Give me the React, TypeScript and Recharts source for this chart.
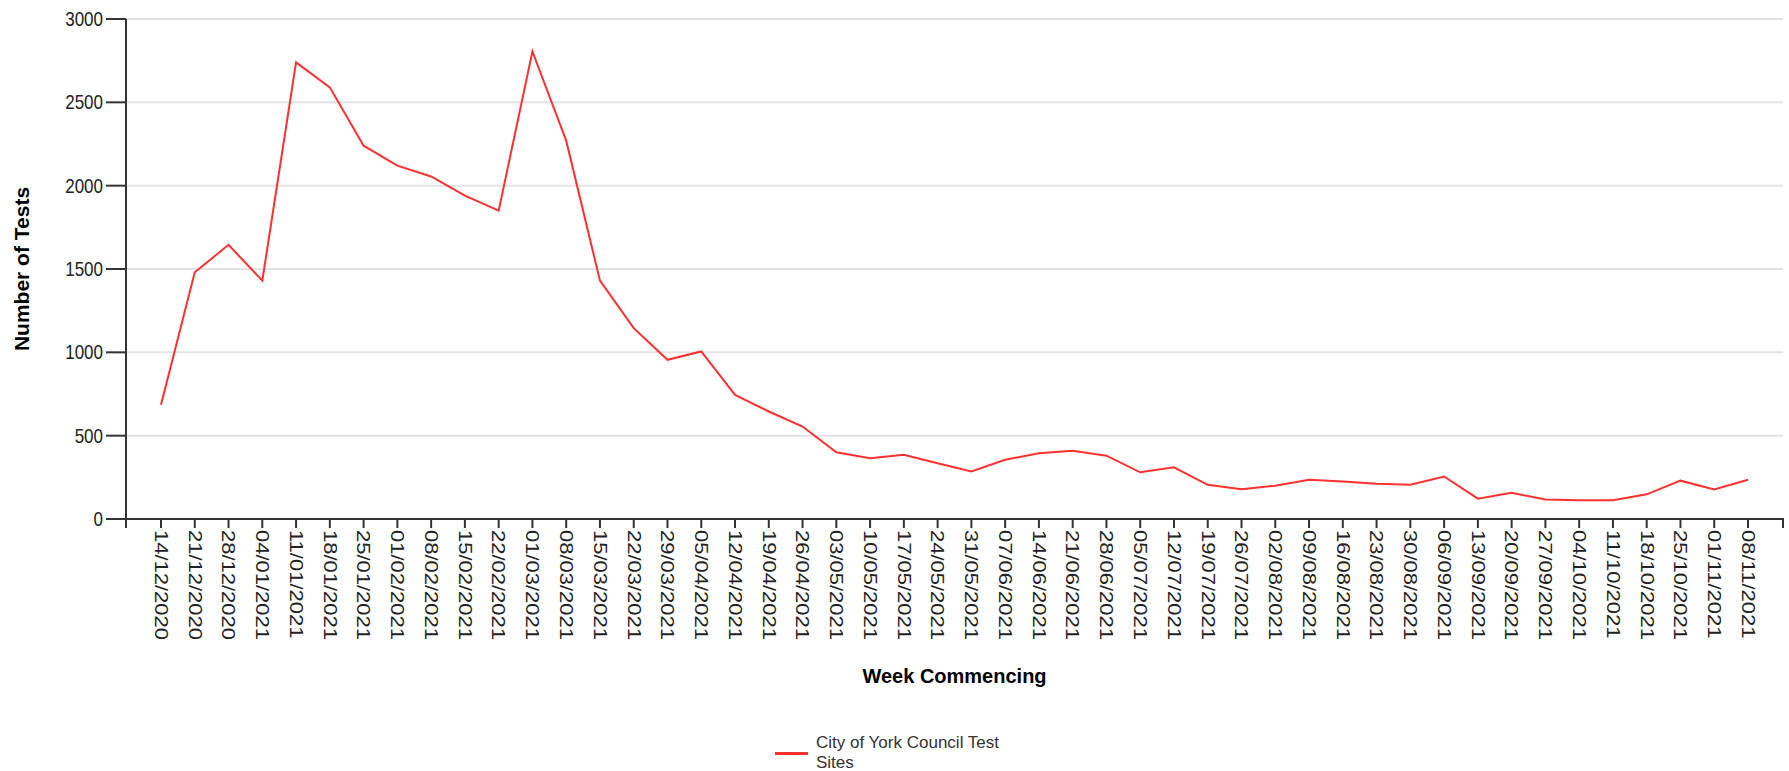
import React from "react";
import {
  LineChart,
  Line,
  XAxis,
  YAxis,
  CartesianGrid,
  Legend,
  ReferenceLine,
} from "recharts";

const FONT = '"Liberation Sans", Arial, sans-serif';
const RED = "#ff3030";
const AXIS = "#333";

const weeks = [
  "14/12/2020", "21/12/2020", "28/12/2020", "04/01/2021", "11/01/2021", "18/01/2021",
  "25/01/2021", "01/02/2021", "08/02/2021", "15/02/2021", "22/02/2021", "01/03/2021",
  "08/03/2021", "15/03/2021", "22/03/2021", "29/03/2021", "05/04/2021", "12/04/2021",
  "19/04/2021", "26/04/2021", "03/05/2021", "10/05/2021", "17/05/2021", "24/05/2021",
  "31/05/2021", "07/06/2021", "14/06/2021", "21/06/2021", "28/06/2021", "05/07/2021",
  "12/07/2021", "19/07/2021", "26/07/2021", "02/08/2021", "09/08/2021", "16/08/2021",
  "23/08/2021", "30/08/2021", "06/09/2021", "13/09/2021", "20/09/2021", "27/09/2021",
  "04/10/2021", "11/10/2021", "18/10/2021", "25/10/2021", "01/11/2021", "08/11/2021",
];

const tests = [
  685, 1480, 1645, 1430, 2740, 2590,
  2240, 2120, 2055, 1940, 1850, 2805,
  2270, 1430, 1145, 955, 1005, 745,
  645, 555, 400, 365, 385, 335,
  285, 355, 395, 410, 380, 280,
  310, 205, 178, 200, 235, 225,
  212, 205, 255, 122, 157, 117,
  113, 113, 148, 230, 177, 235,
];

const yTicks = [0, 500, 1000, 1500, 2000, 2500, 3000];
const seriesName = "City of York Council Test Sites";

const data = weeks.map((week, i) => ({ week, tests: tests[i] }));

function XTick({ x, y, payload }: any) {
  return (
    <text
      transform={`translate(${x},${y}) rotate(90) scale(1,0.8)`}
      textAnchor="start"
      dominantBaseline="central"
      fontFamily={FONT}
      fontSize={22}
      fill="#222"
    >
      {payload.value}
    </text>
  );
}

function YTick({ x, y, payload }: any) {
  return (
    <text
      transform={`translate(${x},${y}) scale(0.85,1)`}
      textAnchor="end"
      dominantBaseline="central"
      fontFamily={FONT}
      fontSize={20}
      fill="#222"
    >
      {payload.value}
    </text>
  );
}

function YTitle({ viewBox }: any) {
  const cx = viewBox.x + 21;
  const cy = viewBox.y + viewBox.height / 2;
  return (
    <text
      x={cx}
      y={cy}
      transform={`rotate(-90 ${cx} ${cy})`}
      textAnchor="middle"
      dominantBaseline="central"
      fontFamily={FONT}
      fontWeight="bold"
      fontSize={21}
      fill="#000"
    >
      Number of Tests
    </text>
  );
}

function XTitle({ viewBox }: any) {
  return (
    <text
      x={viewBox.x + viewBox.width / 2}
      y={viewBox.y + 157}
      textAnchor="middle"
      dominantBaseline="central"
      fontFamily={FONT}
      fontWeight="bold"
      fontSize={20}
      fill="#000"
    >
      Week Commencing
    </text>
  );
}

// x axis drawn like a d3 domain path, with outer ticks at both ends
function AxisPath(p: any) {
  return (
    <path
      d={`M${p.x1},${p.y1 + 9}V${p.y1}H${p.x2}V${p.y1 + 9}`}
      fill="none"
      stroke={AXIS}
      strokeWidth={2}
    />
  );
}

function LegendContent() {
  return (
    <div
      style={{
        display: "flex",
        alignItems: "center",
        fontFamily: FONT,
        fontSize: 17,
        lineHeight: "20px",
        color: "#333",
      }}
    >
      <span style={{ display: "inline-block", width: 33, height: 3, background: RED, marginRight: 8 }} />
      <span>
        City of York Council Test
        <br />
        Sites
      </span>
    </div>
  );
}

export default function App() {
  return (
    <div style={{ position: "absolute", left: 0, top: 0, background: "#fff" }}>
      <LineChart width={1789} height={771} data={data} margin={{ top: 19, right: 6, left: 0, bottom: 0 }}>
        <CartesianGrid vertical={false} stroke="#e3e3e3" strokeWidth={2} />
        <XAxis
          dataKey="week"
          interval={0}
          height={252}
          padding={{ left: 35, right: 35 }}
          axisLine={false}
          tickSize={9}
          tickMargin={2}
          tickLine={{ stroke: AXIS, strokeWidth: 2 }}
          tick={<XTick />}
          label={<XTitle />}
        />
        <YAxis
          width={126}
          domain={[0, 3000]}
          ticks={yTicks}
          interval={0}
          tickSize={20}
          tickMargin={3}
          axisLine={{ stroke: AXIS, strokeWidth: 2 }}
          tickLine={{ stroke: AXIS, strokeWidth: 2 }}
          tick={<YTick />}
          label={<YTitle />}
        />
        <ReferenceLine y={0} shape={AxisPath} />
        <Legend
          layout="vertical"
          align="center"
          verticalAlign="middle"
          content={<LegendContent />}
          wrapperStyle={{ left: 775, top: 733, width: 300 }}
        />
        <Line
          type="linear"
          dataKey="tests"
          name={seriesName}
          stroke={RED}
          strokeWidth={2}
          dot={false}
          activeDot={false}
          isAnimationActive={false}
        />
      </LineChart>
    </div>
  );
}
